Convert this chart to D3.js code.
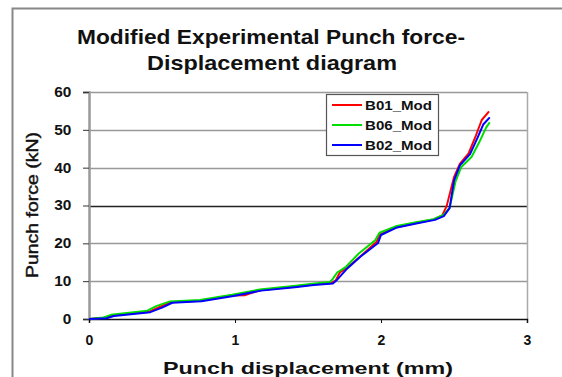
<!DOCTYPE html>
<html>
<head>
<meta charset="utf-8">
<script src="https://cdn.jsdelivr.net/npm/d3@7"></script>
<style>
    body { margin: 0; background: #fff; }
    svg text { font-family: "Liberation Sans", Arial, sans-serif; font-weight: bold; fill: #111; }
</style>
</head>
<body>
<div id="chart"></div>
<script>
// Data: [displacement (mm), force (kN)]
const b01Mod = [
    [0, 0], [0.11, 0.3], [0.16, 0.9], [0.41, 1.9], [0.48, 3.1], [0.56, 4.4], [0.76, 4.8],
    [0.98, 6.2], [1.07, 6.3], [1.17, 7.6], [1.4, 8.5], [1.53, 9.1], [1.66, 9.5], [1.69, 10.2],
    [1.72, 12.4], [1.77, 13.6], [1.86, 16.6], [1.97, 20.4], [1.99, 22.3], [2.1, 24.2],
    [2.24, 25.4], [2.36, 26.3], [2.42, 27.4], [2.45, 29.9], [2.5, 37.5], [2.54, 41.0],
    [2.6, 43.8], [2.65, 48.5], [2.69, 52.6], [2.74, 54.9]
];
const b06Mod = [
    [0, 0], [0.1, 0.4], [0.15, 1.1], [0.4, 2.2], [0.46, 3.4], [0.55, 4.6], [0.76, 5.0],
    [0.98, 6.4], [1.17, 7.8], [1.4, 8.7], [1.53, 9.3], [1.65, 9.8], [1.67, 10.6],
    [1.7, 12.3], [1.76, 13.8], [1.85, 17.4], [1.96, 20.8], [1.99, 22.8], [2.1, 24.5],
    [2.24, 25.6], [2.36, 26.4], [2.43, 27.6], [2.47, 29.4], [2.51, 36.3], [2.55, 40.2],
    [2.62, 42.8], [2.67, 46.5], [2.72, 50.6], [2.745, 52.0]
];
const b02Mod = [
    [0, 0], [0.12, 0.2], [0.17, 0.8], [0.42, 1.8], [0.5, 3.0], [0.57, 4.3], [0.77, 4.7],
    [0.99, 6.1], [1.18, 7.5], [1.41, 8.4], [1.54, 9.0], [1.67, 9.4], [1.7, 10.4],
    [1.76, 13.0], [1.86, 16.5], [1.98, 20.1], [2.0, 22.2], [2.11, 24.2], [2.25, 25.3],
    [2.37, 26.2], [2.43, 27.2], [2.47, 29.3], [2.5, 36.6], [2.54, 40.6], [2.61, 43.6],
    [2.66, 47.8], [2.7, 51.4], [2.745, 53.3]
];

const seriesNames = ['B01_Mod', 'B06_Mod', 'B02_Mod'];
const seriesColors = ['#ff0000', '#00dd00', '#0000ff'];
const xTicks = [0, 1, 2, 3];
const yTicks = [0, 10, 20, 30, 40, 50, 60];

const W = 562, H = 377;
const margin = {top: 92, right: 35, bottom: 58, left: 89};
const width = W - margin.left - margin.right;
const height = H - margin.top - margin.bottom;

const svg = d3.select('#chart')
    .append('svg')
    .attr('width', W)
    .attr('height', H);

// Outer chart border (right and bottom edges fall outside the picture)
svg.append('path')
    .attr('d', `M12.5,${H} V8.5 H${W}`)
    .attr('fill', 'none')
    .attr('stroke', '#888')
    .attr('stroke-width', 2);

// Title (the source picture is stretched sideways, so text is stretched to fit)
svg.append('text')
    .attr('x', 77).attr('y', 44)
    .attr('textLength', 388)
    .attr('lengthAdjust', 'spacingAndGlyphs')
    .style('font-size', '21px')
    .text('Modified Experimental Punch force-');
svg.append('text')
    .attr('x', 147).attr('y', 70)
    .attr('textLength', 250)
    .attr('lengthAdjust', 'spacingAndGlyphs')
    .style('font-size', '21px')
    .text('Displacement diagram');

const g = svg.append('g')
    .attr('transform', `translate(${margin.left},${margin.top})`);

const xScale = d3.scaleLinear().domain([0, 3]).range([0, width]);
const yScale = d3.scaleLinear().domain([0, 60]).range([height, 0]);

// Gridlines
g.selectAll('.grid')
    .data(yTicks.filter(d => d > 0))
    .enter().append('line')
    .attr('class', 'grid')
    .attr('x1', 0).attr('x2', width)
    .attr('y1', d => Math.round(yScale(d)) + 0.5)
    .attr('y2', d => Math.round(yScale(d)) + 0.5)
    .attr('stroke', d => d === 30 ? '#222' : '#999')
    .attr('stroke-width', d => d === 60 ? 1.5 : 1.3);

// Right border of plot area
g.append('line')
    .attr('x1', width + 0.5).attr('x2', width + 0.5)
    .attr('y1', 0).attr('y2', height)
    .attr('stroke', '#aaa')
    .attr('stroke-width', 1.5);

// Y axis
const yAxis = g.append('g')
    .call(d3.axisLeft(yScale).tickValues(yTicks).tickSize(6).tickPadding(10));
yAxis.select('.domain').attr('stroke', '#999').attr('stroke-width', 2.5);
yAxis.selectAll('.tick line').attr('stroke', '#333');
yAxis.selectAll('text').style('font-size', '14px').attr('transform', 'scale(1.1,1)');

// X axis
const xAxis = g.append('g')
    .attr('transform', `translate(0,${height})`)
    .call(d3.axisBottom(xScale).tickValues(xTicks).tickFormat(d3.format('d')).tickSize(4).tickPadding(12));
xAxis.select('.domain').attr('stroke', '#111').attr('stroke-width', 1.5);
xAxis.selectAll('.tick line').attr('stroke', '#111');
xAxis.selectAll('text').style('font-size', '14px');

// Axis labels
svg.append('text')
    .attr('x', 163).attr('y', 374)
    .attr('textLength', 290)
    .attr('lengthAdjust', 'spacingAndGlyphs')
    .style('font-size', '17px')
    .text('Punch displacement (mm)');

svg.append('text')
    .attr('transform', 'translate(38, 278) rotate(-90)')
    .attr('textLength', 146)
    .attr('lengthAdjust', 'spacingAndGlyphs')
    .style('font-size', '17px')
    .style('font-weight', 'normal')
    .style('stroke', '#111')
    .style('stroke-width', 0.4)
    .text('Punch force (kN)');

// Lines
const line = d3.line()
    .x(d => xScale(d[0]))
    .y(d => yScale(d[1]))
    .curve(d3.curveLinear);

[b01Mod, b06Mod, b02Mod].forEach((points, i) => {
    g.append('path')
        .datum(points)
        .attr('d', line)
        .attr('fill', 'none')
        .attr('stroke', seriesColors[i])
        .attr('stroke-width', 2)
        .attr('stroke-linejoin', 'round');
});

// Legend
const legend = svg.append('g')
    .attr('transform', 'translate(326, 94)');

legend.append('rect')
    .attr('x', 0.5).attr('y', 0.5)
    .attr('width', 112).attr('height', 61)
    .attr('fill', '#fff')
    .attr('stroke', '#555')
    .attr('stroke-width', 1.2);

seriesNames.forEach((name, i) => {
    const ly = 11 + i * 20;
    legend.append('line')
        .attr('x1', 6).attr('x2', 36)
        .attr('y1', ly).attr('y2', ly)
        .attr('stroke', seriesColors[i])
        .attr('stroke-width', 2);
    legend.append('text')
        .attr('x', 39).attr('y', ly)
        .attr('dy', '0.35em')
        .attr('textLength', 67)
        .attr('lengthAdjust', 'spacingAndGlyphs')
        .style('font-size', '13px')
        .text(name);
});
</script>
</body>
</html>
